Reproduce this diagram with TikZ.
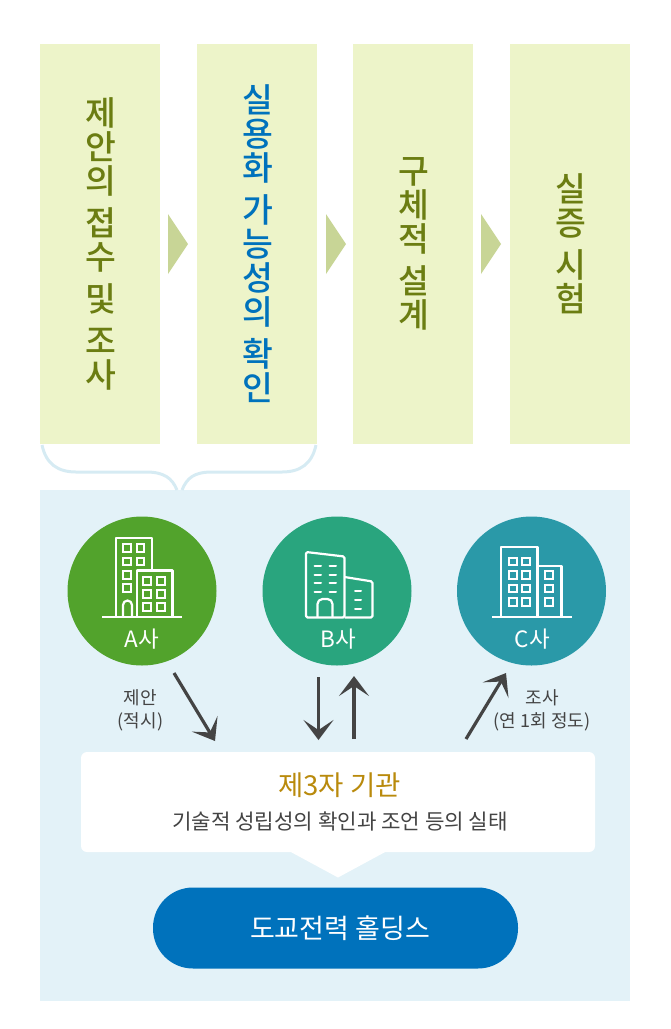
\documentclass[tikz,border=0pt]{standalone}
\usepackage{fontspec}
\setmainfont{Noto Sans CJK KR}
\newfontfamily\krmedium{Noto Sans CJK KR Medium}
\usetikzlibrary{arrows.meta}
\definecolor{stagefill}{HTML}{EDF4C9}
\definecolor{stagetext}{HTML}{6B7D12}
\definecolor{stageblue}{HTML}{0072BC}
\definecolor{chevron}{HTML}{C8D596}
\definecolor{panelblue}{HTML}{E3F2F8}
\definecolor{bracecol}{HTML}{D6EBF3}
\definecolor{firma}{HTML}{52A32C}
\definecolor{firmb}{HTML}{29A57E}
\definecolor{firmc}{HTML}{2A99A8}
\definecolor{flowgray}{HTML}{444444}
\definecolor{thirdgold}{HTML}{B98A0C}
\tikzset{
  stagebox/.style={fill=stagefill,draw=none,minimum width=120pt,minimum height=400pt,inner sep=0pt},
  stagelabel/.style={align=center,inner sep=0pt,text=stagetext,font=\krmedium\fontsize{33.5}{34}\selectfont},
  chevronmark/.style={fill=chevron,draw=none},
  firmcircle/.style={circle,draw=none,minimum size=149pt,inner sep=0pt},
  firmlabel/.style={text=white,inner sep=0pt,font=\fontsize{22.5}{24}\selectfont},
  flowarrow/.style={draw=flowgray,line width=3.2pt,-{Stealth[length=20pt,width=30pt,inset=10pt]}},
  flowlabel/.style={align=center,inner sep=0pt,text=flowgray,font=\fontsize{18}{23}\selectfont},
  outline/.style={draw=white,line width=2.2pt,line join=round},
  pane/.style={fill=white,rounded corners=6pt,draw=none}
}
\begin{document}
\begin{tikzpicture}[x=1pt,y=-1pt]
\useasboundingbox (0,0) rectangle (670,1029);

% Brace and panel
\fill[panelblue] (40,490) rectangle (630,1001);
\draw[bracecol,line width=3pt] (42,445) .. controls (46,464) and (58,472) .. (76,472)
  -- (146,472) .. controls (164,472) and (172,478) .. (177,490);
\draw[bracecol,line width=3pt] (316,445) .. controls (312,464) and (300,472) .. (282,472)
  -- (212,472) .. controls (194,472) and (187,478) .. (182,490);

% Stages
\foreach \n/\x in {a/100,b/257,c/413,d/570}
  \node[stagebox] (stage\n) at (\x,244) {};
\node[stagelabel] (labela) at (100.5,244) {제\\안\\의\\[8pt]접\\수\\[8pt]및\\[8pt]조\\사};
\node[stagelabel,text=stageblue] (labelb) at (257.5,244) {실\\용\\화\\[8pt]가\\능\\성\\의\\[8pt]확\\인};
\node[stagelabel] (labelc) at (413.5,244) {구\\체\\적\\[8pt]설\\계};
\node[stagelabel] (labeld) at (570.5,244) {실\\증\\[8pt]시\\험};

% Chevrons
\foreach \x in {168,326,481}
  \fill[chevronmark] (\x,214) -- ({\x+20},244) -- (\x,274) -- cycle;

% Firms
\node[firmcircle,fill=firma] (firma) at (142,591) {};
\node[firmcircle,fill=firmb] (firmb) at (337,591) {};
\node[firmcircle,fill=firmc] (firmc) at (531.5,591) {};
\node[firmlabel] (namea) at (142,639.5) {A사};
\node[firmlabel] (nameb) at (338,639.5) {B사};
\node[firmlabel] (namec) at (532.5,639.5) {C사};

% Building A
\draw[outline] (102,617) -- (182,617);
\draw[outline] (116,617) -- (116,538) -- (152,538) -- (152,570);
\draw[outline] (137,617) -- (137,570.5) -- (172.5,570.5) -- (172.5,617);
\draw[outline] (123,617) -- (123,605) arc[start angle=180,end angle=360,radius=4.5] -- (132,617);
\foreach \y in {548,561.5,575,588}
  \draw[white,line width=2pt] (123.2,{\y-3.8}) rectangle (130.8,{\y+3.8});
\foreach \y in {548,561.5}
  \draw[white,line width=2pt] (136.7,{\y-3.8}) rectangle (144.3,{\y+3.8});
\foreach \x in {147,161}
  \foreach \y in {581,594,607}
    \draw[white,line width=2pt] ({\x-3.8},{\y-3.8}) rectangle ({\x+3.8},{\y+3.8});

% Building B
\draw[outline,rounded corners=1.5pt] (306,617.5) -- (306,552) -- (344.5,556.5) -- (344.5,617.5) -- cycle;
\draw[outline,rounded corners=1.5pt] (344.5,577) -- (372.5,581.5) -- (372.5,617.5) -- (344.5,617.5);
\draw[outline] (317.5,617.5) -- (317.5,604) arc[start angle=180,end angle=270,radius=5] -- (327.5,599)
  arc[start angle=270,end angle=360,radius=5] -- (332.5,617.5);
\foreach \y in {566,574.5,583,591.5} {
  \draw[white,line width=2pt,line cap=round] (314.5,\y) -- (321,\y);
  \draw[white,line width=2pt,line cap=round] (329.5,\y) -- (336,\y);
}
\foreach \y in {591,599.5,608.5}
  \draw[white,line width=2pt,line cap=round] (355,\y) -- (361,\y);

% Building C
\draw[outline] (492,617) -- (572,617);
\draw[outline] (501,617) -- (501,547) -- (537.5,547) -- (537.5,617);
\draw[outline] (537.5,566) -- (561.5,566) -- (561.5,617);
\foreach \x in {513,526}
  \foreach \y in {561.5,575,588.5,602}
    \draw[white,line width=2pt] ({\x-4.2},{\y-3.8}) rectangle ({\x+4.2},{\y+3.8});
\foreach \y in {575,588.5,602}
  \draw[white,line width=2pt] (545.3,{\y-3.8}) rectangle (553.3,{\y+3.8});

% Third party and holding
\fill[white] (289,851) -- (338,877.5) -- (387,851) -- cycle;
\node[pane,minimum width=514pt,minimum height=100pt,inner sep=0pt] (third) at (338,802) {};
\node[inner sep=0pt,text=thirdgold,font=\fontsize{27.5}{30}\selectfont] (thirdname) at (339.5,785) {제3자 기관};
\node[inner sep=0pt,text=flowgray,font=\fontsize{21.2}{24}\selectfont] (thirdtext) at (340,821) {기술적 성립성의 확인과 조언 등의 실태};
\node[fill=stageblue,rounded corners=40pt,minimum width=365pt,minimum height=81pt,inner sep=0pt] (holding) at (335.5,928) {};
\node[inner sep=0pt,text=white,font=\fontsize{27}{30}\selectfont] (holdingname) at (340,928) {도교전력 홀딩스};

% Flows
\coordinate (fromA) at (174,673);
\coordinate (toA) at (215,741);
\coordinate (fromB) at (318.5,677);
\coordinate (toB) at (318.5,740);
\coordinate (fromT) at (354,739);
\coordinate (toT) at (354,676);
\coordinate (fromC) at (466,739);
\coordinate (toC) at (506,673);
\draw[flowarrow] (fromA) -- (toA);
\draw[flowarrow] (fromB) -- (toB);
\draw[flowarrow] (fromT) -- (toT);
\draw[flowarrow] (fromC) -- (toC);
\node[flowlabel] (proposal) at (140.5,710.5) {제안\\(적시)};
\node[flowlabel] (survey) at (542,710.5) {조사\\(연 1회 정도)};
\end{tikzpicture}
\end{document}
